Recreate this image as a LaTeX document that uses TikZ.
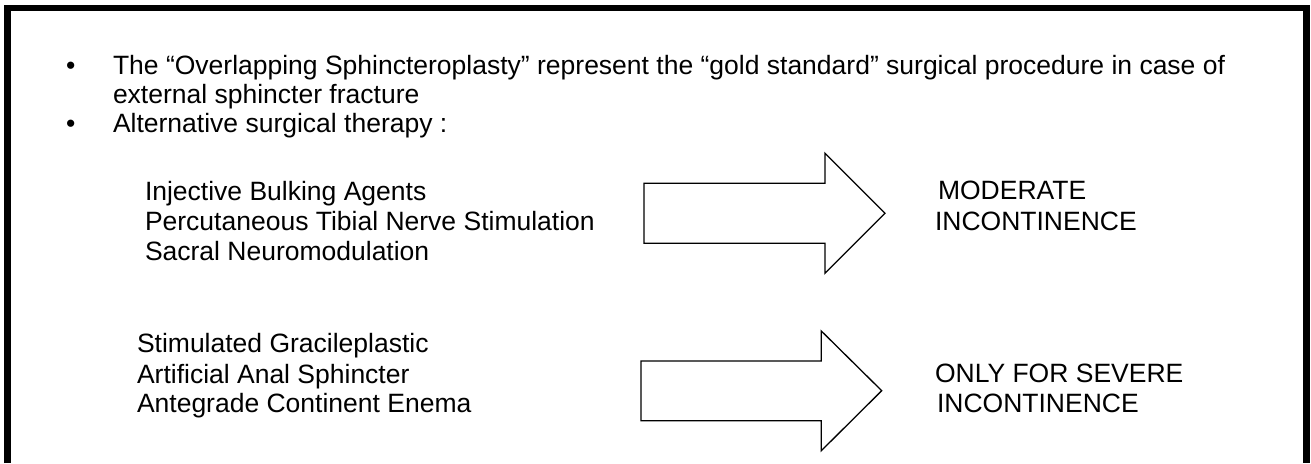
\documentclass[tikz,border=0pt]{standalone}
\usepackage{fontspec}
\setmainfont{Liberation Sans}
\begin{document}
\begin{tikzpicture}[x=1pt,y=-1pt,
  txt/.style={anchor=base west,inner sep=0pt,outer sep=0pt,font=\fontsize{26.5}{30}\selectfont},
  bul/.style={anchor=base,inner sep=0pt,outer sep=0pt,font=\fontsize{26.5}{30}\selectfont},
  frame/.style={line width=6.5pt},
  bigarrow/.style={draw,line width=1.3pt,line join=miter,fill=white}]
\useasboundingbox (0,0) rectangle (1311,463);
\fill[white] (0,0) rectangle (1311,463);
\draw[frame] (7.5,463) -- (7.5,8) -- (1306.5,8) -- (1306.5,463);
% bullets and main text
\node[bul] (b1) at (70.8,74) {•};
\node[txt] (l1) at (113,74) {The “Overlapping Sphincteroplasty” represent the “gold standard” surgical procedure in case of};
\node[txt] (l2) at (113,103) {external sphincter fracture};
\node[bul] (b2) at (70.8,132) {•};
\node[txt] (l3) at (113,132) {Alternative surgical therapy :};
% first group
\node[txt] (a1) at (145,200) {Injective Bulking Agents};
\node[txt] (a2) at (145,230) {Percutaneous Tibial Nerve Stimulation};
\node[txt] (a3) at (145,260) {Sacral Neuromodulation};
\draw[bigarrow] (644,183.3) -- (825,183.3) -- (825,153.3) -- (885,213.3) -- (825,273.3) -- (825,243.3) -- (644,243.3) -- cycle;
\node[txt] (r1) at (938,199.3) {MODERATE};
\node[txt] (r2) at (935,230) {INCONTINENCE};
% second group
\node[txt] (c1) at (137,352.7) {Stimulated Gracileplastic};
\node[txt] (c2) at (137,383) {Artificial Anal Sphincter};
\node[txt] (c3) at (137,412.7) {Antegrade Continent Enema};
\draw[bigarrow] (641,361) -- (821.3,361) -- (821.3,331) -- (881.7,390.7) -- (821.3,450.7) -- (821.3,420.7) -- (641,420.7) -- cycle;
\node[txt] (s1) at (935,382.7) {ONLY FOR SEVERE};
\node[txt] (s2) at (937,412.7) {INCONTINENCE};
\end{tikzpicture}
\end{document}
